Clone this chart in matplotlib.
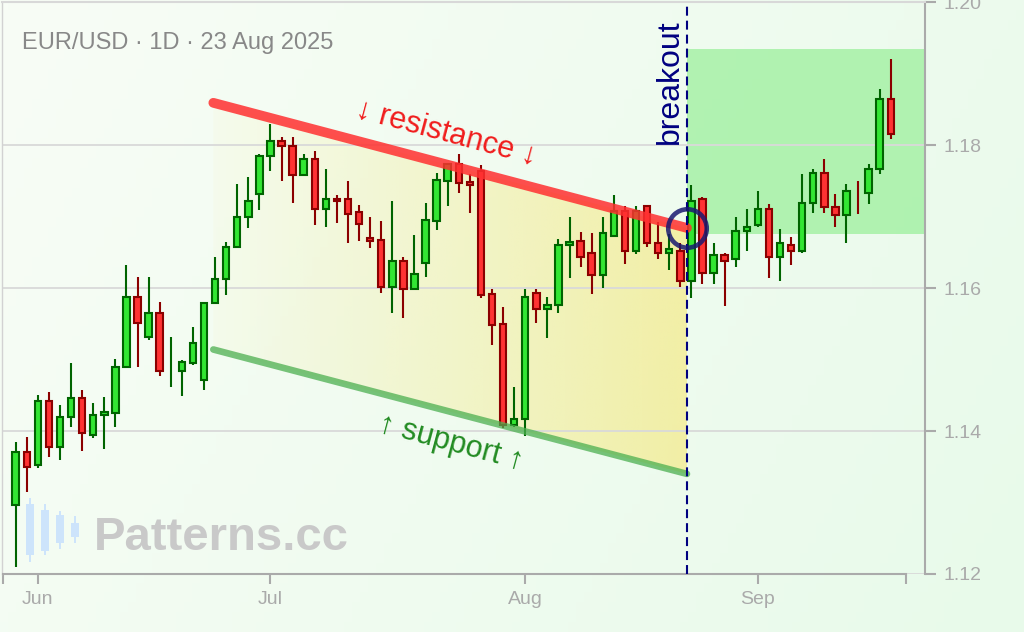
import numpy as np
import pandas as pd
import matplotlib
matplotlib.use('Agg')
import matplotlib.pyplot as plt
from matplotlib.patches import Polygon, Rectangle

plt.rcParams['font.family'] = ['Liberation Sans', 'DejaVu Sans']

# ---------------- data ----------------
dates = pd.bdate_range('2025-05-29', '2025-09-17')

opens = [
    1.1297, 1.1370, 1.1352, 1.1442, 1.1377, 1.1420, 1.1446, 1.1394, 1.1422, 1.1425,
    1.1489, 1.1588, 1.1532, 1.1565, 1.1495, 1.1484, 1.1495, 1.1472, 1.1579, 1.1612,
    1.1658, 1.1699, 1.1732, 1.1784, 1.1806, 1.1798, 1.1758, 1.1781, 1.1710, 1.1725,
    1.1725, 1.1706, 1.1670, 1.1667, 1.1601, 1.1638, 1.1598, 1.1635, 1.1694, 1.1750,
    1.1773, 1.1748, 1.1764, 1.1591, 1.1549, 1.1408, 1.1417, 1.1593, 1.1570, 1.1576,
    1.1660, 1.1666, 1.1649, 1.1618, 1.1673, 1.1708, 1.1652, 1.1714, 1.1663, 1.1649,
    1.1652, 1.1610, 1.1725, 1.1621, 1.1646, 1.1640, 1.1680, 1.1688, 1.1711, 1.1643,
    1.1660, 1.1652, 1.1719, 1.1761, 1.1713, 1.1702, 1.1726, 1.1733, 1.1766, 1.1864]

closes = [
    1.1370, 1.1350, 1.1442, 1.1377, 1.1420, 1.1446, 1.1397, 1.1423, 1.1426, 1.1490,
    1.1588, 1.1551, 1.1565, 1.1484, 1.1495, 1.1496, 1.1523, 1.1579, 1.1613, 1.1658,
    1.1700, 1.1722, 1.1784, 1.1806, 1.1799, 1.1758, 1.1781, 1.1710, 1.1725, 1.1722,
    1.1704, 1.1690, 1.1666, 1.1601, 1.1638, 1.1598, 1.1619, 1.1695, 1.1751, 1.1773,
    1.1747, 1.1744, 1.1590, 1.1548, 1.1408, 1.1417, 1.1588, 1.1570, 1.1576, 1.1660,
    1.1665, 1.1643, 1.1618, 1.1677, 1.1708, 1.1652, 1.1708, 1.1663, 1.1649, 1.1655,
    1.1610, 1.1722, 1.1621, 1.1646, 1.1638, 1.1680, 1.1686, 1.1711, 1.1643, 1.1663,
    1.1652, 1.1719, 1.1761, 1.1713, 1.1702, 1.1736, 1.1725, 1.1767, 1.1864, 1.1816]

highs = [
    1.1385, 1.1391, 1.1450, 1.1455, 1.1436, 1.1495, 1.1458, 1.1439, 1.1448, 1.1501,
    1.1632, 1.1615, 1.1615, 1.1581, 1.1531, 1.1500, 1.1545, 1.1581, 1.1643, 1.1665,
    1.1746, 1.1755, 1.1788, 1.1830, 1.1811, 1.1811, 1.1788, 1.1791, 1.1766, 1.1730,
    1.1750, 1.1716, 1.1699, 1.1694, 1.1722, 1.1643, 1.1674, 1.1719, 1.1761, 1.1774,
    1.1788, 1.1760, 1.1772, 1.1598, 1.1573, 1.1461, 1.1598, 1.1598, 1.1587, 1.1668,
    1.1699, 1.1679, 1.1677, 1.1699, 1.1730, 1.1715, 1.1714, 1.1715, 1.1693, 1.1675,
    1.1663, 1.1744, 1.1727, 1.1663, 1.1649, 1.1699, 1.1710, 1.1735, 1.1718, 1.1682,
    1.1671, 1.1760, 1.1766, 1.1780, 1.1732, 1.1746, 1.1749, 1.1774, 1.1878, 1.1920]

lows = [
    1.1210, 1.1314, 1.1348, 1.1364, 1.1359, 1.1406, 1.1372, 1.1390, 1.1375, 1.1406,
    1.1488, 1.1490, 1.1527, 1.1477, 1.1462, 1.1449, 1.1492, 1.1457, 1.1577, 1.1590,
    1.1658, 1.1684, 1.1709, 1.1763, 1.1749, 1.1719, 1.1756, 1.1688, 1.1686, 1.1691,
    1.1663, 1.1666, 1.1656, 1.1593, 1.1565, 1.1558, 1.1598, 1.1616, 1.1681, 1.1714,
    1.1733, 1.1705, 1.1586, 1.1520, 1.1404, 1.1406, 1.1393, 1.1551, 1.1530, 1.1565,
    1.1614, 1.1630, 1.1591, 1.1600, 1.1672, 1.1634, 1.1648, 1.1658, 1.1641, 1.1625,
    1.1602, 1.1586, 1.1605, 1.1606, 1.1575, 1.1630, 1.1652, 1.1686, 1.1614, 1.1610,
    1.1632, 1.1649, 1.1705, 1.1705, 1.1686, 1.1663, 1.1703, 1.1717, 1.1759, 1.1809]

price_ticks = [1.12, 1.14, 1.16, 1.18, 1.20]

resistance_x = [17.84, 60.6]
resistance_y = [1.1859, 1.1684]
support_x = [17.84, 60.6]
support_y = [1.1514, 1.1340]
breakout_x = 60.6
breakout_price = 1.16835
target_low, target_high = 1.1675, 1.1934

title = 'EUR/USD · 1D · 23 Aug 2025'

# ---------------- figure ----------------
W, H = 1024, 632
fig = plt.figure(figsize=(W / 100, H / 100), dpi=100)

# soft background gradient
bg = fig.add_axes([0, 0, 1, 1], zorder=-10)
yy, xx = np.mgrid[0:1:64j, 0:1:128j]
t = np.clip(0.75 * xx + 0.25 * yy, 0, 1)[..., None]
c0 = np.array([248, 253, 246]) / 255
c1 = np.array([232, 250, 234]) / 255
bg.imshow(c0 * (1 - t) + c1 * t, aspect='auto', extent=[0, 1, 0, 1], origin='upper')
bg.set_axis_off()

ax = fig.add_axes([2 / W, 58 / H, 923 / W, 572 / H])
ax.set_facecolor('none')

x = np.arange(len(opens))
o = np.array(opens); c = np.array(closes); h = np.array(highs); l = np.array(lows)

# wedge fill with gradient
poly = Polygon(np.column_stack([[resistance_x[0], resistance_x[1], support_x[1], support_x[0]],
                                [resistance_y[0], resistance_y[1], support_y[1], support_y[0]]]),
               closed=True, facecolor='none', edgecolor='none')
ax.add_patch(poly)
g = np.linspace(0, 1, 256)
img = np.zeros((2, 256, 4))
img[..., 0] = 245 / 255
img[..., 1] = 232 / 255
img[..., 2] = 125 / 255
img[..., 3] = 0.06 + 0.58 * g ** 1.1
im = ax.imshow(img, extent=[resistance_x[0], resistance_x[1], 1.13, 1.19],
               aspect='auto', origin='lower', zorder=0.2, interpolation='bilinear')
im.set_clip_path(poly)

# target zone
ax.add_patch(Rectangle((breakout_x, target_low), 30, target_high - target_low,
                       facecolor='#90ee90', alpha=0.65, edgecolor='none', zorder=0.3))

# candles
up = c >= o
has_body = np.abs(c - o) > 0.00015
ax.vlines(x[up], l[up], h[up], color='#006400', lw=1.5, zorder=2)
ax.vlines(x[~up], l[~up], h[~up], color='#8b0000', lw=1.5, zorder=2)
m = up & has_body
ax.bar(x[m], (c - o)[m], bottom=o[m], width=0.58, color='#33e633',
       edgecolor='#006400', linewidth=1.5, zorder=3)
m = (~up) & has_body
ax.bar(x[m], (o - c)[m], bottom=c[m], width=0.58, color='#ff3333',
       edgecolor='#8b0000', linewidth=1.5, zorder=3)

# pattern lines
ax.plot(resistance_x, resistance_y, color='#ff3030', alpha=0.85, lw=7,
        solid_capstyle='round', zorder=4)
ax.plot(support_x, support_y, color='#4caf50', alpha=0.75, lw=4.8,
        solid_capstyle='round', zorder=4)

# breakout marker
ax.axvline(breakout_x, color='#000080', lw=1.5, ls=(0, (4.3, 2.4)), zorder=4.5)
ax.plot([breakout_x], [breakout_price], marker='o', ms=27.7, mfc='none',
        mec='#191970', mew=3.3, alpha=0.85, zorder=5)

ax.text(38.9, 1.1816, '↓ resistance ↓', rotation=-15, rotation_mode='anchor',
        ha='center', va='center', fontsize=22, color='#f01c1c', zorder=6)
ax.text(39.3, 1.1384, '↑ support ↑', rotation=-15, rotation_mode='anchor',
        ha='center', va='center', fontsize=22, color='#228b22', zorder=6)
ax.annotate('breakout', xy=(breakout_x, 1.1975), xytext=(-1.5, 0),
            textcoords='offset points', rotation=90, ha='right', va='top',
            fontsize=23, color='#000080', zorder=6)

# axes styling
ax.set_xlim(-1.237, 82.09)
ax.set_ylim(1.12, 1.20)

month_idx = [i for i in range(1, len(dates)) if dates[i].month != dates[i - 1].month]
month_labels = [dates[i].strftime('%b') for i in month_idx]
x_lo, x_hi = -1.15, 80.38
ax.set_xticks([x_lo] + month_idx + [x_hi])
ax.set_xticklabels([''] + month_labels + [''])
ax.spines['bottom'].set_bounds(x_lo, x_hi)

ax.yaxis.tick_right()
ax.set_yticks(price_ticks)
ax.set_yticklabels(['%.2f' % v for v in price_ticks])

ax.tick_params(axis='x', length=7.5, width=1.5, color='#aaaaaa', labelcolor='#aaaaaa',
               labelsize=14, pad=5)
ax.tick_params(axis='y', length=8, width=1.5, color='#aaaaaa', labelcolor='#aaaaaa',
               labelsize=14, pad=5)

ax.spines['bottom'].set_color('#aaaaaa'); ax.spines['bottom'].set_linewidth(1.5)
ax.spines['right'].set_color('#aaaaaa'); ax.spines['right'].set_linewidth(1.5)
ax.spines['left'].set_color('#d2d2d2'); ax.spines['left'].set_linewidth(1.0)
ax.spines['top'].set_color('#d8d8d8'); ax.spines['top'].set_linewidth(1.5)

ax.yaxis.grid(True, color='#d9d9d9', lw=1.3)
ax.set_axisbelow(True)

# title & watermark
fig.text(22 / W, 1 - 49.5 / H, title, fontsize=17, color='#888888',
         ha='left', va='baseline')
fig.text(94 / W, 1 - 550 / H, 'Patterns.cc', fontsize=34, fontweight='bold',
         color='#c9c9c9', ha='left', va='baseline')

logo = [(30, 504, 555, 498, 562), (45, 510, 551, 504, 555),
        (60, 515, 543, 511, 549), (75, 523, 537, 516, 543)]
for cx, bt, bb, wt, wb in logo:
    fig.add_artist(Rectangle(((cx - 1) / W, 1 - wb / H), 2 / W, (wb - wt) / H,
                             transform=fig.transFigure, facecolor='#cde4fb',
                             edgecolor='none'))
    fig.add_artist(Rectangle(((cx - 4) / W, 1 - bb / H), 8 / W, (bb - bt) / H,
                             transform=fig.transFigure, facecolor='#cde4fb',
                             edgecolor='none'))

fig.savefig('out.png', dpi=100)
